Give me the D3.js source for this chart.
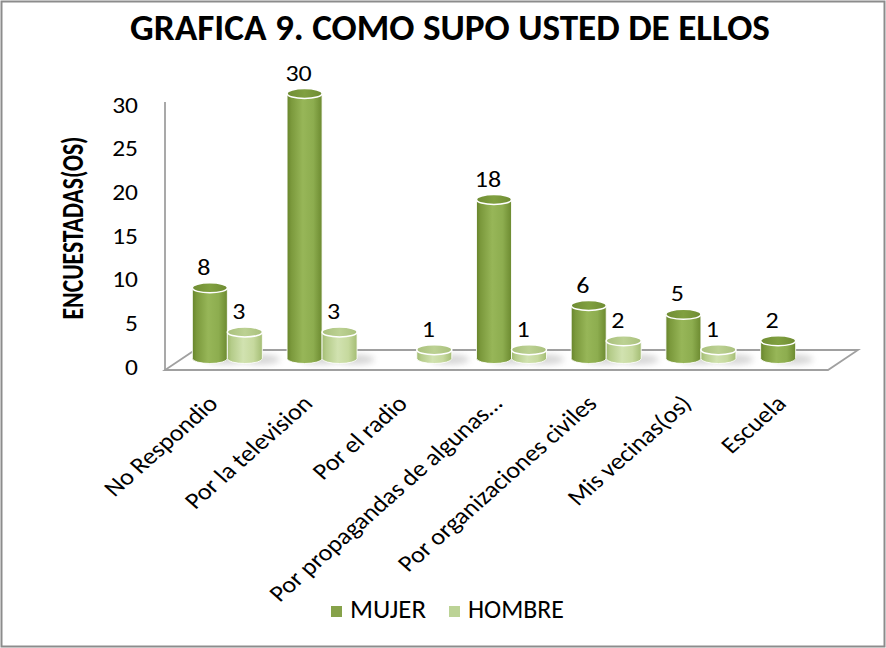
<!DOCTYPE html>
<html>
<head>
<meta charset="utf-8">
<script src="https://cdn.jsdelivr.net/npm/d3@7/dist/d3.min.js"></script>
<style>
  html, body { margin: 0; padding: 0; background: #fff; }
  svg { display: block; }
  text { font-family: Carlito, Lato, "Open Sans", sans-serif; fill: #000; }
</style>
</head>
<body>
<svg id="chart" width="886" height="648"></svg>
<script>
// ---------- data ----------
const title = "GRAFICA 9. COMO SUPO USTED DE ELLOS";
const yTitle = "ENCUESTADAS(OS)";
const categories = [
  "No Respondio",
  "Por la television",
  "Por el radio",
  "Por propagandas de algunas…",
  "Por organizaciones civiles",
  "Mis vecinas(os)",
  "Escuela"
];
const seriesNames = ["MUJER", "HOMBRE"];
const mujer  = [8, 30, null, 18, 6, 5, 2];
const hombre = [3, 3, 1, 1, 2, 1, null];
const yTicks = [0, 5, 10, 15, 20, 25, 30];

// ---------- setup ----------
const svg = d3.select("#chart");
const W = 886, H = 648;
const SX = 1.13; // horizontal stretch of the original picture's text
svg.append("rect").attr("width", W).attr("height", H).attr("fill", "#fff");
svg.append("rect").attr("x", 1.5).attr("y", 1.5).attr("width", W - 3).attr("height", H - 3)
  .attr("fill", "none").attr("stroke", "#8c8c8c").attr("stroke-width", 2);

function fit(sel, target) {
  const w = sel.node().getComputedTextLength();
  const fs = parseFloat(sel.attr("font-size"));
  sel.attr("font-size", fs * target / w);
  return fs * target / w;
}

const defs = svg.append("defs");
function grad(id, stops) {
  const g = defs.append("linearGradient").attr("id", id)
    .attr("x1", "0%").attr("x2", "100%").attr("y1", "0%").attr("y2", "0%");
  stops.forEach(s => g.append("stop").attr("offset", s[0]).attr("stop-color", s[1]));
}
grad("bodyM", [[0, "#67842b"], [0.12, "#7b993c"], [0.45, "#97b658"], [0.75, "#8dad4f"], [1, "#6c8a30"]]);
grad("bodyH", [[0, "#a1bb70"], [0.12, "#b5cc8a"], [0.45, "#d1e2b0"], [0.75, "#c6d99e"], [1, "#a4bd74"]]);
grad("topM", [[0, "#6f8c33"], [0.5, "#80a040"], [1, "#6f8c33"]]);
grad("topH", [[0, "#a9c07c"], [0.5, "#bcd193"], [1, "#a9c07c"]]);
const blur = defs.append("filter").attr("id", "blur").attr("x", "-50%").attr("y", "-50%").attr("width", "200%").attr("height", "200%");
blur.append("feGaussianBlur").attr("stdDeviation", 3);

// ---------- scales ----------
const frontLeft = 165, frontRight = 828, floorFront = 370;
const depthX = 30, depthY = -20;
const x = d3.scaleBand().domain(categories).range([frontLeft, frontRight]);
const xs = d3.scaleBand().domain(seriesNames).range([0, x.bandwidth()]).paddingInner(0).paddingOuter(0.353);
const y = d3.scaleLinear().domain([0, 30]).range([367, 105]);
const yBar = d3.scaleLinear().domain([0, 30]).range([358.5, 93.5]);

// ---------- title ----------
const t = svg.append("text").attr("x", 450).attr("y", 40).attr("text-anchor", "middle")
  .attr("font-size", 28).attr("font-weight", "bold").text(title);
fit(t, 640);

// ---------- y axis title ----------
const yt = svg.append("text").attr("transform", `translate(83,228) scale(1.25,1) rotate(-90)`)
  .attr("text-anchor", "middle").attr("font-size", 22).attr("font-weight", "bold").text(yTitle);
fit(yt, 183);

// ---------- floor ----------
const floorPts = [
  [frontLeft, floorFront],
  [frontRight, floorFront],
  [frontRight + depthX, floorFront + depthY],
  [frontLeft + depthX, floorFront + depthY]
];
svg.append("path").attr("d", "M" + floorPts.map(p => p.join(",")).join("L") + "Z")
  .attr("fill", "#fff").attr("stroke", "#a0a0a0").attr("stroke-width", 1.8);

// vertical axis line
svg.append("line").attr("x1", frontLeft).attr("x2", frontLeft)
  .attr("y1", y(30) - 3).attr("y2", floorFront + 1)
  .attr("stroke", "#a0a0a0").attr("stroke-width", 1.8);

// ---------- y axis labels ----------
const yAxis = d3.axisLeft(y).tickValues(yTicks).tickSize(0).tickPadding(0);
const ya = svg.append("g").attr("transform", `translate(138,0)`).call(yAxis);
ya.select(".domain").remove();
ya.attr("font-size", null).attr("font-family", null);
ya.selectAll("text").attr("font-size", 22.5).attr("fill", "#000").attr("x", 0)
  .attr("transform", `scale(${SX},1)`)
  .style("font-family", "Carlito, Lato, 'Open Sans', sans-serif");

// ---------- bars ----------
const bars = [];
categories.forEach((c, i) => {
  [["MUJER", mujer[i]], ["HOMBRE", hombre[i]]].forEach(([s, v]) => {
    if (v === null || v === undefined) return;
    bars.push({ c, s, v });
  });
});

const gShadow = svg.append("g");
const gBars = svg.append("g");
const gLabels = svg.append("g");
const rx = xs.bandwidth() / 2, ry = 5;

bars.forEach(b => {
  const cx = x(b.c) + depthX / 2 + xs(b.s) + xs.bandwidth() / 2;
  const y0 = yBar(0), y1 = yBar(b.v);
  gShadow.append("ellipse").attr("cx", cx + rx * 0.9).attr("cy", y0 + 1)
    .attr("rx", rx * 1.1).attr("ry", 5).attr("fill", "#8a8a8a").attr("opacity", 0.35)
    .attr("filter", "url(#blur)");
  const isM = b.s === "MUJER";
  gBars.append("path")
    .attr("d", `M${cx - rx},${y1} L${cx - rx},${y0} A${rx},${ry} 0 0 0 ${cx + rx},${y0} L${cx + rx},${y1} Z`)
    .attr("fill", isM ? "url(#bodyM)" : "url(#bodyH)")
    .attr("stroke", "#fff").attr("stroke-width", 1).attr("stroke-opacity", 0.85);
  gBars.append("ellipse").attr("cx", cx).attr("cy", y1).attr("rx", rx).attr("ry", ry)
    .attr("fill", isM ? "url(#topM)" : "url(#topH)")
    .attr("stroke", "#fff").attr("stroke-width", 1.5);
  gLabels.append("text")
    .attr("transform", `translate(${cx - 6},${y1 - 13}) scale(${SX},1)`)
    .attr("text-anchor", "middle").attr("font-size", 23).text(b.v);
});

// ---------- category labels ----------
const catLabels = svg.append("g").selectAll("text").data(categories).join("text")
  .attr("transform", c => `translate(${x(c) + x.bandwidth() / 2 + 7},405) scale(${SX},1) rotate(-45)`)
  .attr("text-anchor", "end").attr("font-size", 20).text(c => c);
const longest = catLabels.filter(c => c === categories[3]);
const fs = fit(longest, 280);
catLabels.attr("font-size", fs);

// ---------- legend ----------
const legend = svg.append("g");
const colors = { MUJER: "#86a24a", HOMBRE: "#bcd396" };
const legendX = { MUJER: 331, HOMBRE: 449 };
seriesNames.forEach(s => {
  legend.append("rect").attr("x", legendX[s]).attr("y", 606).attr("width", 11).attr("height", 11)
    .attr("fill", colors[s]);
  const lt = legend.append("text").attr("x", legendX[s] + 19).attr("y", 618)
    .attr("font-size", 18).attr("fill", "#222").text(s);
  fit(lt, s === "MUJER" ? 76 : 96);
});
</script>
</body>
</html>
